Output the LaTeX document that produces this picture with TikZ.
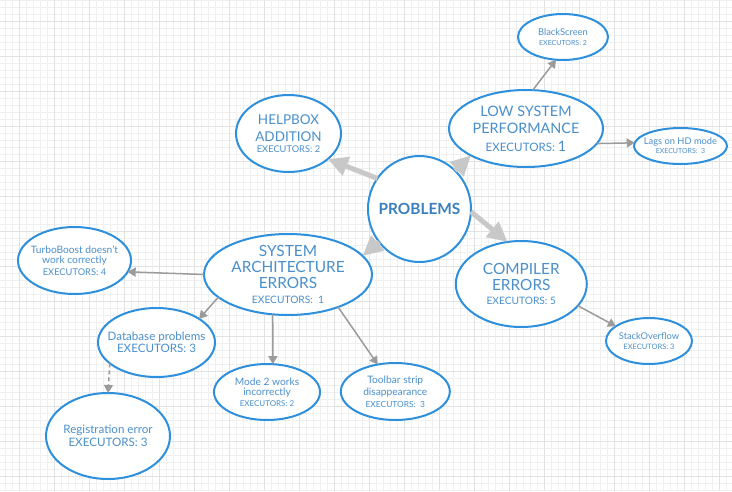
\documentclass[tikz,border=0pt]{standalone}
\usepackage{fontspec}
\setmainfont{Lato}
\usetikzlibrary{arrows.meta,shapes.geometric}
\definecolor{edgeblue}{HTML}{2E8FDC}
\definecolor{txtblue}{HTML}{4A8FCB}
\definecolor{probblue}{HTML}{3A80C0}
\definecolor{thickgray}{HTML}{C8C8C8}
\definecolor{thingray}{HTML}{9B9B9B}
\definecolor{gridminor}{HTML}{F0F0F0}
\definecolor{gridmajor}{HTML}{E2E2E2}
\newcommand{\fsz}[2]{\fontsize{#1}{#2}\selectfont}
\begin{document}
\begin{tikzpicture}[x=1pt,y=-1pt,
  bub/.style={ellipse, draw=edgeblue, line width=2pt, fill=white, inner sep=-90pt, outer sep=0pt, align=center, text=txtblue},
  bigarrow/.style={draw=thickgray, line width=5pt, -{Triangle[length=20pt,width=19pt]}},
  smallarrow/.style={draw=thingray, line width=1.5pt, -{Triangle[length=8pt,width=9pt]}},
  minorline/.style={draw=gridminor, line width=0.8pt},
  majorline/.style={draw=gridmajor, line width=0.8pt}]
\useasboundingbox (0,0) rectangle (732,491);
\fill[white] (0,0) rectangle (732,491);
\begin{scope}
\clip (0,0) rectangle (732,491);
\foreach \x in {5.3,12.3,...,732} \draw[minorline] (\x,0) -- (\x,491);
\foreach \y in {0.7,7.7,...,491} \draw[minorline] (0,\y) -- (732,\y);
\foreach \x in {19.3,54.3,...,732} \draw[majorline] (\x,0) -- (\x,491);
\foreach \y in {21.7,56.7,...,491} \draw[majorline] (0,\y) -- (732,\y);
\end{scope}

% nodes
\node[bub, minimum width=105pt, minimum height=77pt, font=\fsz{13.5}{17.3}] (help) at (288.5,133.5)
  {HELPBOX\\ADDITION\\[-6pt]{\fsz{9.3}{11}EXECUTORS: 2}};
\node[bub, minimum width=154pt, minimum height=77pt, font=\fsz{14.4}{17.5}] (low) at (526,128.5)
  {LOW SYSTEM\\PERFORMANCE\\{\fsz{11.6}{13}EXECUTORS: }1};
\node[bub, minimum width=90pt, minimum height=46pt, font=\fsz{9.3}{10.7}] (black) at (563,37)
  {BlackScreen\\{\fsz{7}{8}EXECUTORS: 2}};
\node[bub, minimum width=93pt, minimum height=36pt, font=\fsz{9.3}{9}] (lags) at (680.5,146)
  {Lags on HD mode\\{\fsz{7}{8}EXECUTORS:\ \ 3}};
\node[bub, minimum width=103pt, minimum height=106pt, font=\fsz{15.4}{18}\bfseries, text=probblue] (prob) at (419.5,209)
  {PROBLEMS};
\node[bub, minimum width=168pt, minimum height=81pt, font=\fsz{15.4}{16}] (sys) at (288,274.5)
  {SYSTEM\\ARCHITECTURE\\ERRORS\\[-1.3pt]{\fsz{10.2}{12}EXECUTORS:\ \ 1}};
\node[bub, minimum width=113pt, minimum height=67pt, font=\fsz{10.2}{10.7}] (turbo) at (74.5,260.5)
  {TurboBoost doesn't\\work correctly\\[1.3pt]{\fsz{9.3}{11}EXECUTORS: 4}};
\node[bub, minimum width=117pt, minimum height=69pt, font=\fsz{11.6}{12.3}] (db) at (156.5,342.5)
  {Database problems\\EXECUTORS: 3};
\node[bub, minimum width=124pt, minimum height=86pt, font=\fsz{11.6}{13.3}] (reg) at (108,436)
  {Registration error\\EXECUTORS: 3};
\node[bub, minimum width=106pt, minimum height=56pt, font=\fsz{10.2}{10.5}] (mode) at (267,392)
  {Mode 2 works\\incorrectly\\{\fsz{8}{9}EXECUTORS: 2}};
\node[bub, minimum width=109pt, minimum height=57pt, font=\fsz{10.2}{12}] (tool) at (395.3,391.5)
  {Toolbar strip\\disappearance\\[-0.3pt]{\fsz{8.4}{10}EXECUTORS:\ \ 3}};
\node[bub, minimum width=131pt, minimum height=86pt, font=\fsz{15.4}{16}] (comp) at (521.3,284)
  {COMPILER\\ERRORS\\[-2pt]{\fsz{10.2}{12}EXECUTORS: 5}};
\node[bub, minimum width=86pt, minimum height=46pt, font=\fsz{9.3}{9.3}] (so) at (649,341)
  {StackOverflow\\{\fsz{7.5}{8}EXECUTORS: 3}};

% thick connectors
\draw[bigarrow] (prob.144) -- (help.-33);
\draw[bigarrow] (prob.47) -- (low.-154);
\draw[bigarrow] (prob.-3) -- (comp.108);
\draw[bigarrow] (prob.-141) -- (sys.14);

% thin connectors
\draw[smallarrow] (low.80) -- (black.-107);
\draw[smallarrow] (low.-12) -- (lags.176);
\draw[smallarrow] (sys.180) -- (turbo.-12);
\draw[smallarrow] (sys.-162) -- (db.29);
\draw[smallarrow] (sys.-111) -- (mode.78);
\draw[smallarrow] (sys.-33.5) -- (tool.123);
\draw[smallarrow, dash pattern=on 4pt off 3pt] (db.-156) -- (reg.90);
\draw[smallarrow] (comp.-21) -- (so.156);
\end{tikzpicture}
\end{document}
